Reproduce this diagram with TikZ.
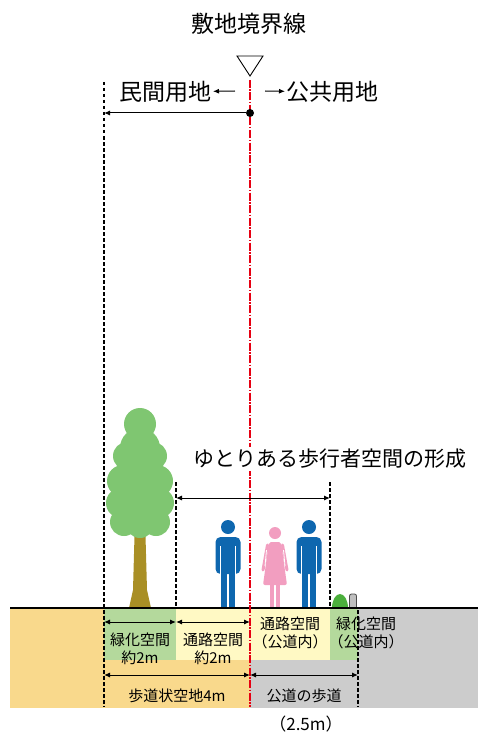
\documentclass[tikz,border=0pt]{standalone}
\usepackage{fontspec}
\setmainfont{Noto Sans CJK JP}
\usetikzlibrary{arrows,arrows.meta,positioning,calc}

\definecolor{lotzone}{HTML}{F9D98C}
\definecolor{roadzone}{HTML}{CCCCCC}
\definecolor{greenzone}{HTML}{B4D99C}
\definecolor{pathzone}{HTML}{FFF9C4}
\definecolor{leafgreen}{HTML}{7FC671}
\definecolor{trunkbrown}{HTML}{A98F25}
\definecolor{bushgreen}{HTML}{4BAF3C}
\definecolor{manblue}{HTML}{0E67AF}
\definecolor{womanpink}{HTML}{F29EC0}
\definecolor{borderred}{HTML}{E60012}

\tikzset{
  man/.pic={
    \fill (0,-81) circle (7);
    \fill[rounded corners=5pt] (-12.5,-71) rectangle (12.5,-34);
    \draw[white, line width=1pt] (-7.5,-62) -- (-7.5,-33);
    \draw[white, line width=1pt] (7.5,-62) -- (7.5,-33);
    \fill (-7,-40) rectangle (-1,0);
    \fill (1,-40) rectangle (7,0);
  },
  woman/.pic={
    \fill (0,-75) circle (6);
    \fill[rounded corners=2pt] (-6,-66) -- (6,-66) -- (12,-23) -- (-12,-23) -- cycle;
    \draw[line width=3pt, line cap=round] (-7.5,-63) -- (-12,-38);
    \draw[line width=3pt, line cap=round] (7.5,-63) -- (12,-38);
    \draw[white, line width=0.8pt] (-8.5,-58) -- (-10,-42);
    \draw[white, line width=0.8pt] (8.5,-58) -- (10,-42);
    \fill (-5,-24) rectangle (-1,0);
    \fill (1,-24) rectangle (5,0);
  }
}

\begin{document}
\begin{tikzpicture}[x=1pt, y=-1pt,
  >={Latex[length=6pt,width=5pt]},
  guide/.style={line width=1.1pt, dash pattern=on 3.5pt off 2.5pt},
  border/.style={borderred, line width=1.2pt, dash pattern=on 8pt off 1.5pt on 1.5pt off 1.5pt},
  dim/.style={<->, line width=1pt},
  big/.style={font=\fontsize{23}{26}\selectfont, inner sep=1pt},
  lbl/.style={font=\fontsize{15}{18}\selectfont, align=center, inner sep=0pt}]

\useasboundingbox (0,0) rectangle (478,733);

% ground sections
\fill[lotzone] (10,609) rectangle (250,708);
\fill[roadzone] (250,609) rectangle (478,708);
\fill[greenzone] (104,609) rectangle (176,660);
\fill[pathzone] (176,609) rectangle (250,660);
\fill[pathzone] (250,609) rectangle (330,660);
\fill[greenzone] (330,609) rectangle (358,660);

% tree
\fill[trunkbrown] (135,518) -- (145,518) -- (147,590) -- (151,608) -- (129,608) -- (133,590) -- cycle;
\fill[leafgreen] (140,424) circle (16) (140,448) circle (20)
  (127,456) circle (14) (153,456) circle (14)
  (140,475) circle (24) (123,481) circle (16) (157,481) circle (16)
  (140,500) circle (26) (121,503) circle (15) (159,503) circle (15)
  (124,522) circle (14) (156,522) circle (14) (140,524) circle (14);

% people
\pic[manblue] at (228,608) {man};
\pic[womanpink] at (275,608) {woman};
\pic[manblue] at (309,608) {man};

% bush and bollard
\fill[bushgreen] (332,608) arc (180:360:8 and 14) -- cycle;
\filldraw[fill=black!25, draw=black!70, line width=0.8pt, rounded corners=2pt]
  (349.5,608) -- (349.5,594) -- (356.5,594) -- (356.5,608);

\draw[line width=1.5pt] (10,608) -- (478,608);

% guide lines
\coordinate (lotT) at (104,82);
\coordinate (lotB) at (104,707);
\draw[guide] (lotT) -- (lotB);
\draw[guide] (176,482) -- (176,607);
\draw[guide] (330,482) -- (330,607);
\draw[guide] (358,610) -- (358,707);
\draw[border] (250,80) -- (250,707);

% boundary marker
\node[big] (title) at (249,24) {敷地境界線};
\draw[line width=0.9pt] (237,56) -- (263,56) -- (250,76) -- cycle;
\node[big, anchor=east] (private) at (213,92) {民間用地};
\node[big, anchor=west] (public) at (285,92) {公共用地};
\draw[->, line width=1pt] (235,91) -- (private);
\draw[->, line width=1pt] (265,91) -- (public);
\node[circle, fill, inner sep=0pt, minimum size=8pt] (dot) at (250,113) {};
\draw[->, line width=1pt] (dot) -- (104,113);

% walking space
\node[big, font=\fontsize{21}{24}\selectfont, fill=white, inner sep=2pt] (wide) at (330,459) {ゆとりある歩行者空間の形成};
\coordinate (wideL) at (176,498);
\coordinate (wideR) at (330,498);
\draw[dim] (wideL) -- (wideR);

% section widths
\coordinate (a1) at (104,622);
\coordinate (a2) at (176,622);
\coordinate (a3) at (250,622);
\draw[dim] (a1) -- (a2);
\draw[dim] (a2) -- (a3);
\coordinate (b1) at (104,675);
\coordinate (b2) at (250,675);
\coordinate (b3) at (358,675);
\draw[dim] (b1) -- (b2);
\draw[dim] (b2) -- (b3);

\node[lbl] (green1) at (140,649) {緑化空間\\約2m};
\node[lbl] (path1) at (213,649) {通路空間\\約2m};
\node[lbl] (path2) at (290,633) {通路空間\\（公道内）};
\node[lbl] (green2) at (366,633) {緑化空間\\（公道内）};
\node[lbl] (lotwidth) at (177,696) {歩道状空地4m};
\node[lbl] (roadwidth) at (304,696) {公道の歩道};
\node[lbl, font=\fontsize{17}{20}\selectfont] (roadsize) at (306,724) {（2.5m）};
\end{tikzpicture}
\end{document}
